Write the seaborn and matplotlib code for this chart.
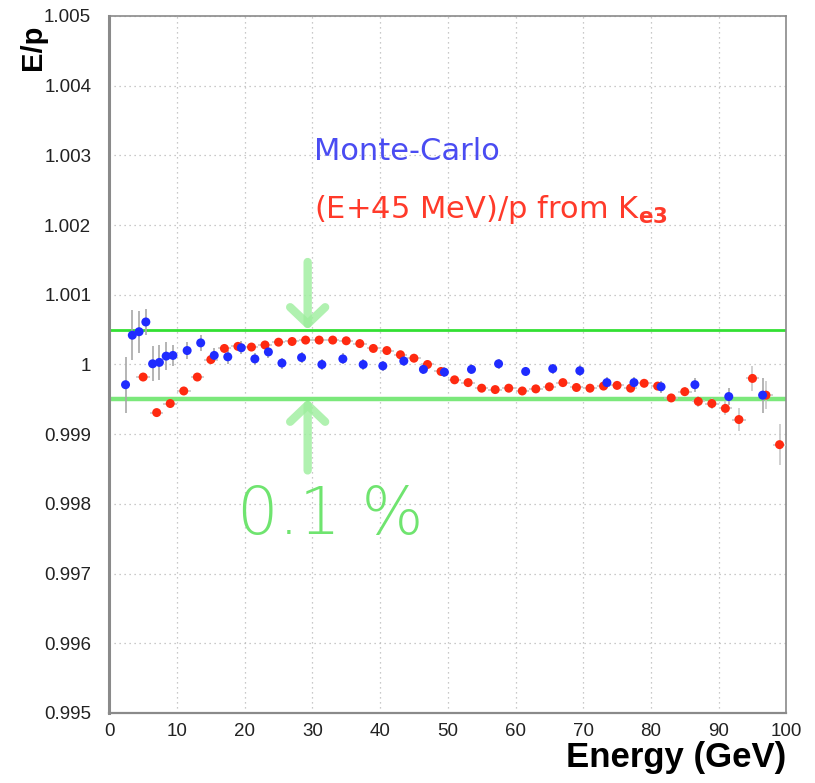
import numpy as np
import pandas as pd
import matplotlib
matplotlib.use("Agg")
import matplotlib.pyplot as plt
import seaborn as sns

# Monte-Carlo E/p versus energy
mc_energy = [2.4, 3.4, 4.4, 5.4, 6.4, 7.4, 8.4, 9.4, 11.5, 13.5, 15.5, 17.5,
             19.5, 21.5, 23.5, 25.5, 28.4, 31.4, 34.5, 37.5, 40.4, 43.5, 46.4,
             49.5, 53.5, 57.5, 61.5, 65.5, 69.5, 73.5, 77.5, 81.5, 86.5, 91.5,
             96.5]
mc_ep = [0.99971, 1.00042, 1.00047, 1.00061, 1.00001, 1.00003, 1.00012,
         1.00013, 1.00020, 1.00031, 1.00013, 1.00011, 1.00024, 1.00008,
         1.00018, 1.00002, 1.00010, 1.00000, 1.00008, 1.00000, 0.99998,
         1.00005, 0.99993, 0.99989, 0.99993, 1.00001, 0.99990, 0.99994,
         0.99991, 0.99974, 0.99974, 0.99968, 0.99971, 0.99954, 0.99956]
mc_err = [0.00040, 0.00036, 0.00030, 0.00018, 0.00025, 0.00025, 0.00020,
          0.00015, 0.00012, 0.00012, 0.00010, 0.00010, 0.00009, 0.00009,
          0.00009, 0.00008, 0.00008, 0.00008, 0.00008, 0.00008, 0.00007,
          0.00007, 0.00007, 0.00007, 0.00007, 0.00007, 0.00007, 0.00007,
          0.00008, 0.00008, 0.00008, 0.00009, 0.00010, 0.00012, 0.00025]

# (E + 45 MeV)/p from Ke3 data, 2 GeV bins
ke3_energy = list(range(5, 100, 2))
ke3_ep = [0.99982, 0.99931, 0.99944, 0.99962, 0.99982, 1.00007, 1.00023,
          1.00026, 1.00025, 1.00028, 1.00032, 1.00033, 1.00035, 1.00035,
          1.00035, 1.00034, 1.00030, 1.00023, 1.00020, 1.00014, 1.00009,
          1.00000, 0.99990, 0.99978, 0.99974, 0.99966, 0.99964, 0.99966,
          0.99962, 0.99965, 0.99968, 0.99974, 0.99967, 0.99966, 0.99969,
          0.99970, 0.99966, 0.99973, 0.99969, 0.99952, 0.99961, 0.99947,
          0.99944, 0.99937, 0.99921, 0.99980, 0.99956, 0.99885]
ke3_err = [0.00003] * 38 + [0.00004, 0.00004, 0.00006, 0.00008, 0.00008,
                             0.00010, 0.00016, 0.00018, 0.00020, 0.00029]
ke3_xerr = 1.0

band_lo, band_hi = 0.9995, 1.0005
arrow_x = 29.3

x_ticks = list(range(0, 101, 10))
y_ticks = [0.995, 0.996, 0.997, 0.998, 0.999, 1.0, 1.001, 1.002, 1.003,
           1.004, 1.005]
y_tick_labels = ["0.995", "0.996", "0.997", "0.998", "0.999", "1", "1.001",
                 "1.002", "1.003", "1.004", "1.005"]

mc = pd.DataFrame({"energy": mc_energy, "ep": mc_ep})
ke3 = pd.DataFrame({"energy": ke3_energy, "ep": ke3_ep})

sns.set_theme(style="white")
plt.rcParams["font.family"] = ["Liberation Sans", "DejaVu Sans"]

fig = plt.figure(figsize=(8.15, 7.83), dpi=100)
ax = fig.add_axes([0.1341, 0.0894, 0.8307, 0.8902])

blue = "#1f2bff"
red = "#ff2a10"
green = "#33e033"
pale_green = "#9cee9c"
err_col = "#a8a8a8"

# band lines
ax.axhline(band_hi, color=green, lw=2.0, zorder=2)
ax.axhline(band_lo, color="#7be87b", lw=3.2, zorder=2)

# arrows pointing at the band
arrow_style = "->,head_length=1.0,head_width=1.05"
ax.annotate("", xy=(arrow_x, band_hi), xytext=(arrow_x, 1.00147),
            arrowprops=dict(arrowstyle=arrow_style, color=pale_green, lw=6,
                            alpha=0.8, shrinkA=0, shrinkB=0), zorder=1)
ax.annotate("", xy=(arrow_x, band_lo), xytext=(arrow_x, 0.99848),
            arrowprops=dict(arrowstyle=arrow_style, color=pale_green, lw=6,
                            alpha=0.8, shrinkA=0, shrinkB=0), zorder=1)

# error bars
ax.errorbar(mc_energy, mc_ep, yerr=mc_err, fmt="none", ecolor=err_col,
            elinewidth=1.2, linestyle="--", zorder=3)
ax.errorbar(ke3_energy, ke3_ep, yerr=ke3_err, xerr=ke3_xerr, fmt="none",
            ecolor="#c4c4c4", elinewidth=1.1, zorder=3)

sns.scatterplot(data=ke3, x="energy", y="ep", color=red, s=42,
                edgecolor="none", ax=ax, zorder=4)
sns.scatterplot(data=mc, x="energy", y="ep", color=blue, s=42,
                edgecolor="none", ax=ax, zorder=5)

ax.set_xlim(0, 100)
ax.set_ylim(0.995, 1.005)
ax.set_xticks(x_ticks)
ax.set_xticklabels([str(t) for t in x_ticks])
ax.set_yticks(y_ticks)
ax.set_yticklabels(y_tick_labels)
ax.set_xticks(np.arange(0, 101, 2), minor=True)
ax.set_yticks(np.arange(0.995, 1.00501, 0.0002), minor=True)
ax.set_xlabel("")
ax.set_ylabel("")

ax.tick_params(axis="both", which="major", direction="in", length=10,
               width=1.0, color="#777777", labelsize=13.5,
               labelcolor="#222222")
ax.tick_params(axis="both", which="minor", direction="in", length=5,
               width=0.9, color="#777777")
ax.tick_params(axis="y", which="major", pad=13)
ax.tick_params(axis="x", which="major", pad=7)
ax.tick_params(top=False, right=False, which="both")

ax.grid(True, which="major", color="#b8b8b8", lw=0.9, linestyle=(0, (1, 3)))
for side, sp in ax.spines.items():
    sp.set_color("#8a8a8a")
    sp.set_linewidth(1.2)
ax.spines["left"].set_linewidth(2.2)
ax.spines["bottom"].set_linewidth(1.6)

# annotations
ax.text(30.2, 1.00293, "Monte-Carlo", color="#4a4cf2", fontsize=22,
        family="DejaVu Sans", ha="left", va="baseline")
ax.text(30.2, 1.00210, r"(E+45 MeV)/p from K$_{\mathbf{e3}}$",
        color="#ff3a2a", fontsize=22, family="DejaVu Sans", ha="left",
        va="baseline")
ax.text(32.6, 0.99783, "0.1 %", color="#6fe46f", fontsize=47,
        family="DejaVu Sans", fontweight="light", ha="center", va="center")

fig.text(33 / 815, 1 - 47 / 783, "E/p", rotation=90, ha="center",
         va="center", fontsize=21, fontweight="bold", color="black")
fig.text(786 / 815, 1 - 757 / 783, "Energy (GeV)", ha="right", va="center",
         fontsize=25, fontweight="bold", color="black")

fig.savefig("out.png", dpi=100, facecolor="white")
